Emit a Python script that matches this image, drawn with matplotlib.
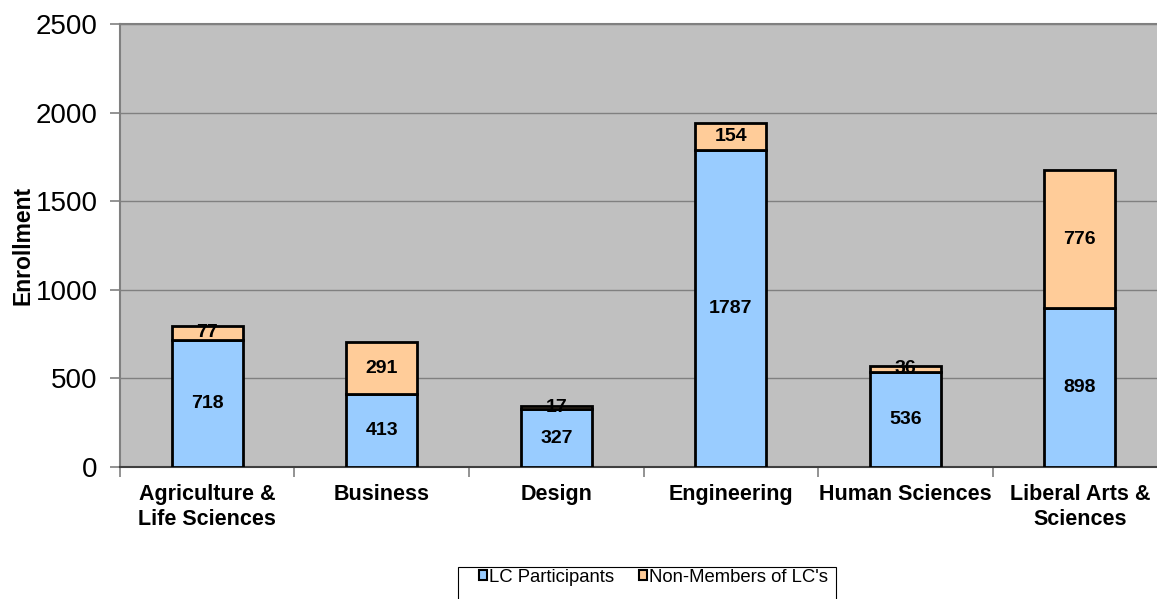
import matplotlib.pyplot as plt
from matplotlib.patches import Rectangle
import numpy as np

plt.rcParams["font.family"] = ["Liberation Sans", "DejaVu Sans"]

categories = ["Agriculture &\nLife Sciences", "Business", "Design",
              "Engineering", "Human Sciences", "Liberal Arts &\nSciences"]
lc_participants = [718, 413, 327, 1787, 536, 898]
non_members = [77, 291, 17, 154, 36, 776]
series_labels = ["LC Participants", "Non-Members of LC's"]
y_ticks = [0, 500, 1000, 1500, 2000, 2500]

BLUE = "#99CCFF"
ORANGE = "#FFCC99"

fig = plt.figure(figsize=(11.57, 5.99), dpi=100)
# plot area runs a little past the right edge of the figure, as in the source
ax = fig.add_axes([0.1037, 0.2204, 0.905, 0.7396])
ax.set_facecolor("#C0C0C0")

x = np.arange(len(categories))
width = 0.405
b1 = ax.bar(x, lc_participants, width, color=BLUE, edgecolor="black",
            linewidth=2, label=series_labels[0], zorder=3)
b2 = ax.bar(x, non_members, width, bottom=lc_participants, color=ORANGE,
            edgecolor="black", linewidth=2, label=series_labels[1], zorder=3)

for xi, lc, nm in zip(x, lc_participants, non_members):
    ax.text(xi, lc / 2, str(lc), ha="center", va="center",
            fontsize=14, fontweight="bold", zorder=4)
    ax.text(xi, lc + nm / 2, str(nm), ha="center", va="center",
            fontsize=14, fontweight="bold", zorder=4)

ax.set_xlim(-0.5, len(categories) - 0.5)
ax.set_ylim(0, 2500)
ax.set_yticks(y_ticks)
ax.tick_params(axis="y", labelsize=20, length=7, color="#808080",
               width=1.2, pad=9)
ax.yaxis.grid(True, color="#808080", linewidth=1, zorder=0)
ax.set_axisbelow(True)

# category labels at centers, tick marks on the boundaries
ax.set_xticks(x)
ax.set_xticklabels(categories, fontsize=15.5, fontweight="bold",
                   linespacing=1.25)
ax.tick_params(axis="x", length=0, pad=12.5)
ax.set_xticks(np.arange(len(categories) + 1) - 0.5, minor=True)
ax.tick_params(axis="x", which="minor", length=7, color="#808080", width=1.2)

for s in ["left", "top"]:
    ax.spines[s].set_color("#808080")
    ax.spines[s].set_linewidth(1.5)
ax.spines["bottom"].set_color("#404040")
ax.spines["bottom"].set_linewidth(1.5)
ax.spines["right"].set_visible(False)

ax.set_ylabel("Enrollment", fontsize=16.5, fontweight="bold", labelpad=1)

# legend entries without a frame, the box is drawn separately (it is cut by
# the figure's bottom edge in the source)
leg = fig.legend(handles=[b1, b2], labels=series_labels, loc="center left",
                 bbox_to_anchor=(479 / 1157, 1 - 577 / 599), ncol=2,
                 fontsize=13.3, frameon=False, handlelength=0.42,
                 handleheight=0.42, handletextpad=0.12, columnspacing=1.35,
                 borderpad=0, borderaxespad=0)
for h in leg.legend_handles:
    h.set_linewidth(1.5)
fig.add_artist(Rectangle((458 / 1157, -0.01), 378 / 1157, 0.01 + 32 / 599,
                         transform=fig.transFigure, facecolor="none",
                         edgecolor="black", linewidth=0.8))

fig.savefig("out.png", dpi=100)
